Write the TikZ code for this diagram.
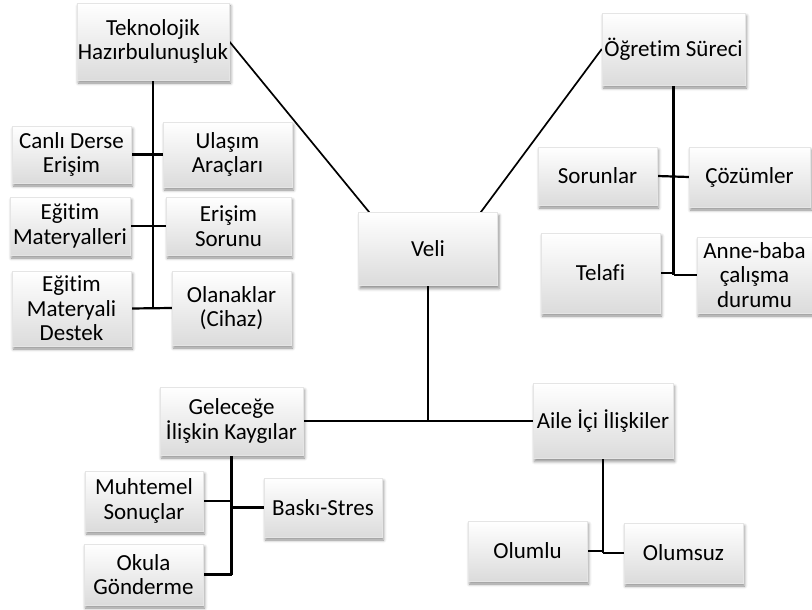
\documentclass[tikz,border=0pt]{standalone}
\usepackage{fontspec}
\setmainfont{Carlito}[Ligatures=NoCommon]
\usetikzlibrary{shadows.blur,backgrounds}
\tikzset{
  kutu/.style={rectangle, draw=gray!20, line width=0.4pt, top color=white, bottom color=black!14,
    blur shadow={shadow xshift=1.5pt, shadow yshift=-3pt, shadow blur radius=3pt, shadow opacity=45},
    align=center, inner sep=1pt, font=\fontsize{23}{24.5}\selectfont},
  bag/.style={line width=2.2pt, black}
}
\begin{document}
\begin{tikzpicture}[x=1pt, y=-1pt]
\useasboundingbox (0,0) rectangle (812,610);
% ana dal
\node[kutu, minimum width=139pt, minimum height=73pt] (veli) at (428,249) {Veli};
% teknolojik hazirbulunusluk
\node[kutu, minimum width=152pt, minimum height=77pt] (tek) at (153,41.5) {Teknolojik\\Hazırbulunuşluk};
\node[kutu, minimum width=119pt, minimum height=57pt] (canli) at (71.5,154.5) {Canlı Derse\\Erişim};
\node[kutu, minimum width=129pt, minimum height=65pt] (ulasim) at (227.5,154.5) {Ulaşım\\Araçları};
\node[kutu, minimum width=120pt, minimum height=58pt] (egmat) at (70,226) {Eğitim\\Materyalleri};
\node[kutu, minimum width=125pt, minimum height=58pt] (erisim) at (228.5,226) {Erişim\\Sorunu};
\node[kutu, minimum width=119pt, minimum height=75pt] (destek) at (71.5,308.5) {Eğitim\\Materyali\\Destek};
\node[kutu, minimum width=119pt, minimum height=74pt] (olanak) at (231.5,308) {Olanaklar\\(Cihaz)};
% ogretim sureci
\node[kutu, minimum width=143pt, minimum height=72pt] (ogretim) at (673.5,49) {Öğretim Süreci};
\node[kutu, minimum width=119pt, minimum height=58pt] (sorun) at (597.5,176) {Sorunlar};
\node[kutu, minimum width=121pt, minimum height=60pt] (cozum) at (749.5,177) {Çözümler};
\node[kutu, minimum width=119pt, minimum height=80pt] (telafi) at (600.5,273) {Telafi};
\node[kutu, minimum width=115pt, minimum height=76pt] (anne) at (754.5,275) {Anne-baba\\çalışma\\durumu};
% gelecege iliskin kaygilar
\node[kutu, minimum width=143pt, minimum height=68pt] (gelecek) at (231.5,421) {Geleceğe\\İlişkin Kaygılar};
\node[kutu, minimum width=118pt, minimum height=60pt] (muhtemel) at (144,501) {Muhtemel\\Sonuçlar};
\node[kutu, minimum width=118pt, minimum height=59pt] (baski) at (323,507.5) {Baskı-Stres};
\node[kutu, minimum width=119pt, minimum height=61pt] (okula) at (143.5,574.5) {Okula\\Gönderme};
% aile ici iliskiler
\node[kutu, minimum width=140pt, minimum height=75pt] (aile) at (603,421) {Aile İçi İlişkiler};
\node[kutu, minimum width=119pt, minimum height=60pt] (olumlu) at (527.5,551) {Olumlu};
\node[kutu, minimum width=119pt, minimum height=60pt] (olumsuz) at (683.5,553) {Olumsuz};
\begin{scope}[on background layer]
\draw[bag, line width=1.7pt] (tek.east) -- ([xshift=11pt]veli.north west);
\draw[bag, line width=1.7pt] ([xshift=-17pt]veli.north east) -- (ogretim.west);
\draw[bag] (veli.south) |- (gelecek.east);
\draw[bag] (veli.south) |- (aile.west);
\draw[bag] (tek.south) -- (tek.south |- destek.east);
\draw[bag] (canli.east) -- (canli.east -| tek.south);
\draw[bag] (ulasim.west) -- (ulasim.west -| tek.south);
\draw[bag] (egmat.east) -- (egmat.east -| tek.south);
\draw[bag] (erisim.west) -- (erisim.west -| tek.south);
\draw[bag] (destek.east) -- (olanak.west);
\draw[bag] (ogretim.south) -- (ogretim.south |- anne.west);
\draw[bag] (sorun.east) -- (cozum.west);
\draw[bag] (telafi.east) -- (telafi.east -| ogretim.south);
\draw[bag] (anne.west) -- (anne.west -| ogretim.south);
\draw[bag] (gelecek.south) -- (gelecek.south |- okula.east);
\draw[bag] (muhtemel.east) -- (muhtemel.east -| gelecek.south);
\draw[bag] (baski.west) -- (baski.west -| gelecek.south);
\draw[bag] (okula.east) -- (okula.east -| gelecek.south);
\draw[bag] (aile.south) -- (aile.south |- olumsuz.west);
\draw[bag] (olumlu.east) -- (olumlu.east -| aile.south);
\draw[bag] (olumsuz.west) -- (olumsuz.west -| aile.south);
\end{scope}
\end{tikzpicture}
\end{document}
